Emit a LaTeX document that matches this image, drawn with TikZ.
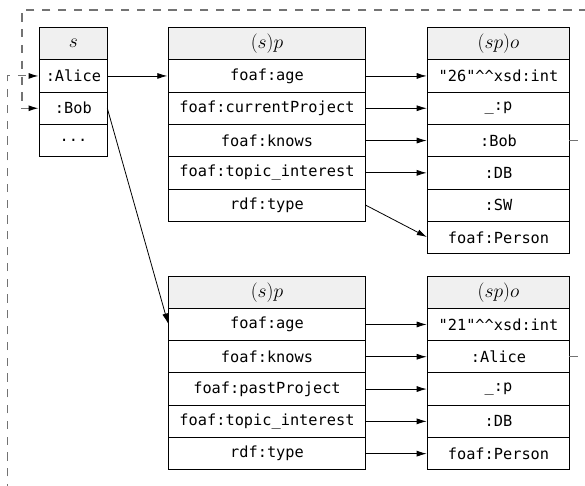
\RequirePackage{fix-cm}
\documentclass[tikz,border=0pt]{standalone}
\usepackage{fontspec}
\setmonofont{DejaVu Sans Mono}
\usetikzlibrary{arrows.meta}
\begin{document}
\begin{tikzpicture}[x=1pt,y=-1pt,
  cell/.style={draw=black, line width=0.9pt, minimum height=32.3pt, inner sep=0pt, outer sep=0pt,
    anchor=north west, font=\fontsize{15.3}{18}\selectfont\ttfamily},
  head/.style={cell, fill=black!6, font=\fontsize{19.5}{23}\selectfont},
  scol/.style={minimum width=67.8pt},
  pcol/.style={minimum width=197.4pt},
  ocol/.style={minimum width=141.6pt},
  arr/.style={-{Latex[length=10pt,width=6pt]}, line width=0.8pt, shorten >=1pt},
  loopline/.style={dash pattern=on 8.3pt off 7.5pt, draw=black!55, line width=1.1pt, shorten >=1pt,
    -{Latex[length=10pt,width=6pt,color=black]}}]
\useasboundingbox (0,0) rectangle (585,486);
% s table
\node[head,scol] (s0) at (39.5,27.5) {$s$};
\node[cell,scol] (s1) at (s0.south west) {:Alice};
\node[cell,scol] (s2) at (s1.south west) {:Bob};
\node[cell,scol] (s3) at (s2.south west) {...};
% top (s)p table
\node[head,pcol] (pa0) at (168.3,27.5) {$(s)p$};
\node[cell,pcol] (pa1) at (pa0.south west) {foaf:age};
\node[cell,pcol] (pa2) at (pa1.south west) {foaf:currentProject};
\node[cell,pcol] (pa3) at (pa2.south west) {foaf:knows};
\node[cell,pcol] (pa4) at (pa3.south west) {foaf:topic\_interest};
\node[cell,pcol] (pa5) at (pa4.south west) {rdf:type};
% top (sp)o table
\node[head,ocol] (oa0) at (427.7,27.5) {$(sp)o$};
\node[cell,ocol] (oa1) at (oa0.south west) {"26"\textasciicircum\textasciicircum xsd:int};
\node[cell,ocol] (oa2) at (oa1.south west) {\_:p};
\node[cell,ocol] (oa3) at (oa2.south west) {:Bob};
\node[cell,ocol] (oa4) at (oa3.south west) {:DB};
\node[cell,ocol] (oa5) at (oa4.south west) {:SW};
\node[cell,ocol] (oa6) at (oa5.south west) {foaf:Person};
% bottom (s)p table
\node[head,pcol] (pb0) at (168.3,276) {$(s)p$};
\node[cell,pcol] (pb1) at (pb0.south west) {foaf:age};
\node[cell,pcol] (pb2) at (pb1.south west) {foaf:knows};
\node[cell,pcol] (pb3) at (pb2.south west) {foaf:pastProject};
\node[cell,pcol] (pb4) at (pb3.south west) {foaf:topic\_interest};
\node[cell,pcol] (pb5) at (pb4.south west) {rdf:type};
% bottom (sp)o table
\node[head,ocol] (ob0) at (427.7,276) {$(sp)o$};
\node[cell,ocol] (ob1) at (ob0.south west) {"21"\textasciicircum\textasciicircum xsd:int};
\node[cell,ocol] (ob2) at (ob1.south west) {:Alice};
\node[cell,ocol] (ob3) at (ob2.south west) {\_:p};
\node[cell,ocol] (ob4) at (ob3.south west) {:DB};
\node[cell,ocol] (ob5) at (ob4.south west) {foaf:Person};
% arrows
\draw[arr] (s1.east) -- (pa1.west);
\draw[arr] (s2.east) -- (pb1.west);
\foreach \i in {1,...,4} \draw[arr] (pa\i.east) -- (oa\i.west);
\draw[arr] (pa5.east) -- (oa6.west);
\foreach \i in {1,...,5} \draw[arr] (pb\i.east) -- (ob\i.west);
% dashed back links
\coordinate (c1) at (600,10);
\coordinate (c2) at (22,10);
\coordinate (c3) at (600,500);
\coordinate (c4) at (7.5,500);
\draw[loopline] (oa3.east) -| (c1) -- (c2) |- (s2.west);
\draw[loopline] (ob2.east) -| (c3) -- (c4) |- (s1.west);
\end{tikzpicture}
\end{document}
